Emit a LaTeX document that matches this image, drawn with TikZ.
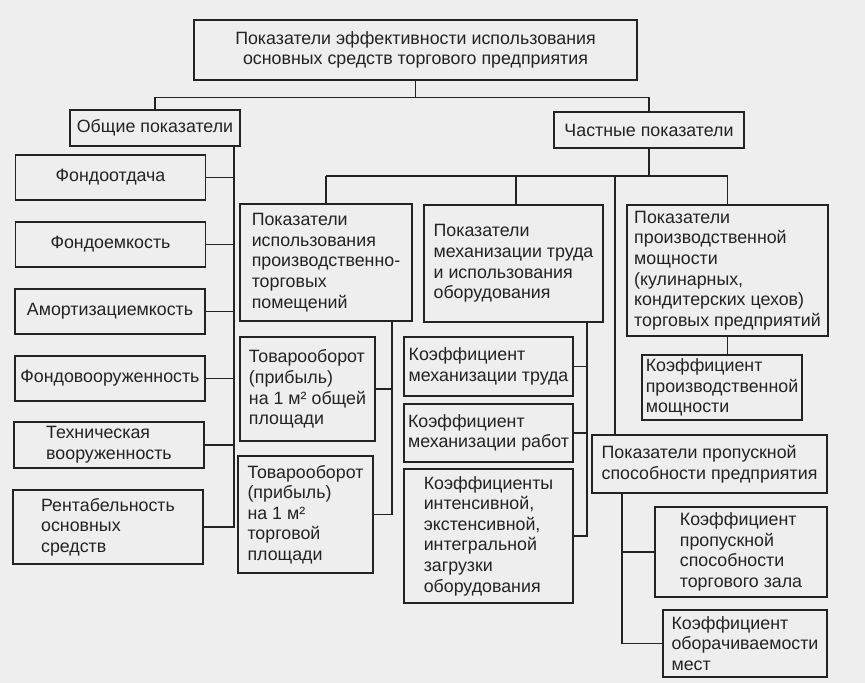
\documentclass[tikz,border=0pt]{standalone}
\usepackage{fontspec}
\setmainfont{Liberation Sans}
\definecolor{SchemeLine}{RGB}{35,35,35}
\definecolor{SchemePaper}{RGB}{238,238,238}

\begin{document}
\begin{tikzpicture}[x=0.03cm,y=-0.03cm,
    box/.style={draw=SchemeLine,line width=1pt,text=SchemeLine,inner sep=2pt,align=left,font=\fontsize{15.2}{17.6}\selectfont},
    link/.style={draw=SchemeLine,line width=0.9pt}]
  \fill[SchemePaper] (0,0) rectangle (865,683);
  \useasboundingbox (0,0) rectangle (865,683);
  % top of the scheme
  \node[box,align=center,minimum width=13.29cm,minimum height=1.8cm] (top) at (415.5,50) {Показатели эффективности использования\\основных средств торгового предприятия};
  \node[box,minimum width=5.1cm,minimum height=1.08cm] (ob) at (155,128) {Общие показатели};
  \node[box,minimum width=5.7cm,minimum height=1.08cm] (ch) at (649,130) {Частные показатели};
  % general indicators
  \node[box,minimum width=5.7cm,minimum height=1.35cm] (f1) at (110.5,177.5) {Фондоотдача};
  \node[box,minimum width=5.7cm,minimum height=1.35cm] (f2) at (110.5,244.5) {Фондоемкость};
  \node[box,minimum width=5.7cm,minimum height=1.35cm] (f3) at (110,311.5) {Амортизациемкость};
  \node[box,minimum width=5.7cm,minimum height=1.35cm] (f4) at (110,378.5) {Фондовооруженность};
  \node[box,minimum width=5.7cm,minimum height=1.38cm] (f5) at (109,445) {Техническая\\вооруженность};
  \node[box,minimum width=5.7cm,minimum height=2.22cm] (f6) at (108,527) {Рентабельность\\основных\\средств};
  % particular indicators
  \node[box,minimum width=5.16cm,minimum height=3.51cm] (p1) at (326,262.5) {Показатели\\использования\\производственно-\\торговых\\помещений};
  \node[box,minimum width=5.37cm,minimum height=3.51cm] (p2) at (513.5,263.5) {Показатели\\механизации труда\\и использования\\оборудования};
  \node[box,minimum width=6.03cm,minimum height=3.93cm] (p3) at (727.5,270.5) {Показатели\\производственной\\мощности\\(кулинарных,\\кондитерских цехов)\\торговых предприятий};
  \node[box,minimum width=4.05cm,minimum height=3.12cm] (t1) at (307.5,389) {Товарооборот\\(прибыль)\\на 1 м² общей\\площади};
  \node[box,minimum width=4.05cm,minimum height=3.51cm] (t2) at (305.5,514.5) {Товарооборот\\(прибыль)\\на 1 м²\\торговой\\площади};
  \node[box,minimum width=5.07cm,minimum height=1.77cm] (k1) at (488.5,366.5) {Коэффициент\\механизации труда};
  \node[box,minimum width=5.07cm,minimum height=1.74cm] (k2) at (488.5,433) {Коэффициент\\механизации работ};
  \node[box,minimum width=5.07cm,minimum height=4.02cm] (k3) at (488.5,536) {Коэффициенты\\интенсивной,\\экстенсивной,\\интегральной\\загрузки\\оборудования};
  \node[box,minimum width=4.8cm,minimum height=1.95cm] (m1) at (722,387.5) {Коэффициент\\производственной\\мощности};
  \node[box,minimum width=7.05cm,minimum height=1.74cm] (pr) at (709.5,464) {Показатели пропускной\\способности предприятия};
  \node[box,minimum width=5.16cm,minimum height=2.7cm] (z1) at (741,552) {Коэффициент\\пропускной\\способности\\торгового зала};
  \node[box,minimum width=4.92cm,minimum height=2.01cm] (z2) at (745,643.5) {Коэффициент\\оборачиваемости\\мест};
  % trunks
  \coordinate (lt) at (234,146);
  \coordinate (bus) at (649,176);
  \coordinate (rt) at (615,176);
  \coordinate (pt) at (392,321);
  \coordinate (mt) at (587,322);
  \coordinate (st) at (622,493);
  % connectors
  \draw[link] (top.south) -- ++(0,17) -| (ob.north);
  \draw[link] (top.south) -- ++(0,17) -| (ch.north);
  \draw[link] (lt) |- (f6.east);
  \foreach \n in {f1,f2,f3,f4,f5}
    \draw[link] (\n.east) -- (\n.east -| lt);
  \draw[link] (ch.south) -- (bus);
  \draw[link] (bus -| p1.north) -- (bus -| p3.north);
  \foreach \n in {p1,p3}
    \draw[link] (\n.north |- bus) -- (\n.north);
  \draw[link] (bus -| 516,0) -- (p2.north -| 516,0);
  \draw[link] (rt) -- (rt |- pr.north);
  \draw[link] (pt) |- (t2.east);
  \draw[link] (t1.east) -- (t1.east -| pt);
  \draw[link] (mt) |- (k3.east);
  \foreach \n in {k1,k2}
    \draw[link] (\n.east) -- (\n.east -| mt);
  \draw[link] (p3.south) -- (p3.south |- m1.north);
  \draw[link] (st) |- (z2.west);
  \draw[link] (st |- z1.west) -- (z1.west);
\end{tikzpicture}
\end{document}
